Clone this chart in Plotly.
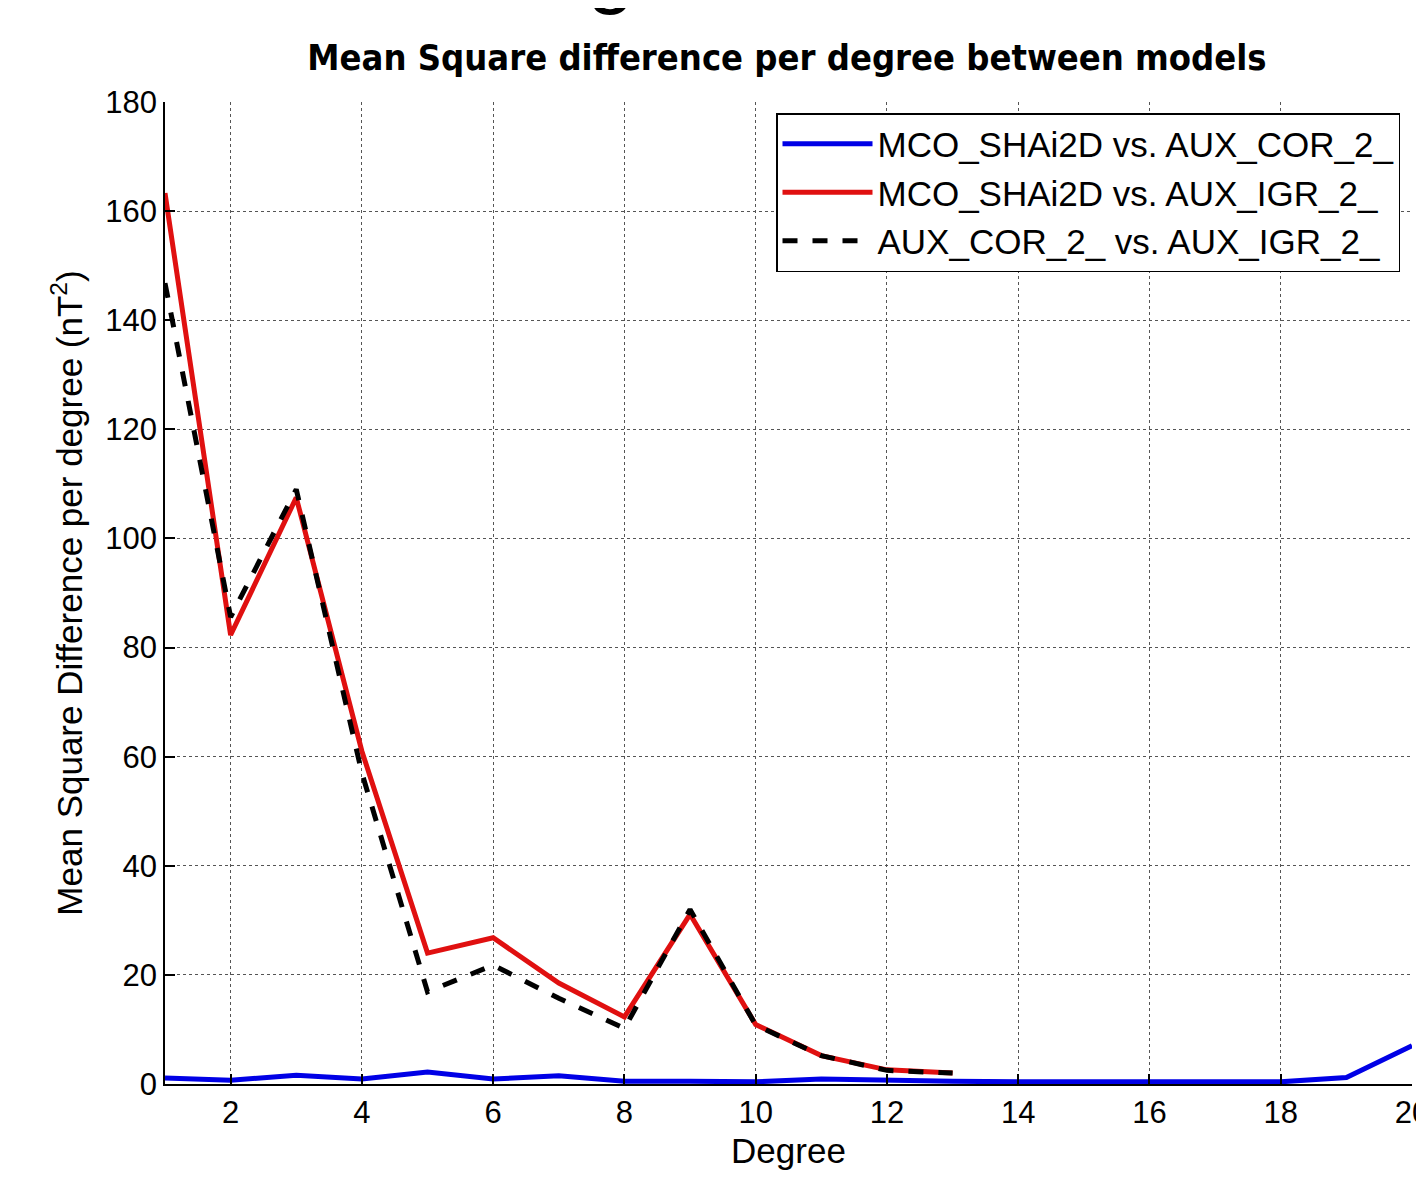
import plotly.graph_objects as go

degree = list(range(1, 21))
degree_13 = list(range(1, 14))

mco_vs_cor = [1.1, 0.7, 1.6, 0.9, 2.2, 0.9, 1.5, 0.5, 0.5, 0.4, 0.9, 0.6, 0.5,
              0.4, 0.4, 0.6, 0.4, 0.4, 1.2, 7.0]
mco_vs_igr = [163.3, 82.3, 107.5, 61.0, 24.0, 26.8, 18.5, 12.3, 31.1, 10.9, 5.2, 2.6, 2.0]
cor_vs_igr = [146.8, 85.6, 109.0, 57.0, 16.9, 21.8, 15.7, 10.2, 32.0, 10.8, 5.2, 2.5, 2.0]

names = ["MCO_SHAi2D vs. AUX_COR_2_", "MCO_SHAi2D vs. AUX_IGR_2_", "AUX_COR_2_ vs. AUX_IGR_2_"]
x_ticks = [2, 4, 6, 8, 10, 12, 14, 16, 18, 20]
y_ticks = [0, 20, 40, 60, 80, 100, 120, 140, 160, 180]

font = "Liberation Sans, Arial, Helvetica, sans-serif"

# page has an 8px body margin; figure sized to fit the window
W, H = 1416, 1180
L, R, T, B = 157, 12, 94, 104
pw, ph = W - L - R, H - T - B

fig = go.Figure()
fig.add_trace(go.Scatter(x=degree, y=mco_vs_cor, mode="lines", name=names[0],
                         line=dict(color="#0000e6", width=5)))
fig.add_trace(go.Scatter(x=degree_13, y=mco_vs_igr, mode="lines", name=names[1],
                         line=dict(color="#e01010", width=5)))
fig.add_trace(go.Scatter(x=degree_13, y=cor_vs_igr, mode="lines", name=names[2],
                         line=dict(color="black", width=5, dash="dash")))

axis_common = dict(
    showgrid=True, gridcolor="#555555", griddash="dot", gridwidth=1,
    showline=True, linecolor="black", linewidth=1.5, mirror=False,
    ticks="inside", ticklen=10, tickcolor="black", tickwidth=1.5,
    tickfont=dict(family=font, size=31, color="black"),
    zeroline=False, automargin=False, ticklabeloverflow="allow",
)

fig.update_layout(
    width=W, height=H,
    margin=dict(l=L, r=R, t=T, b=B),
    paper_bgcolor="white", plot_bgcolor="white",
    title=dict(text="<b>Mean Square difference per degree between models</b>",
               font=dict(family="Liberation Sans Narrow, DejaVu Sans Condensed, Liberation Sans", size=36, color="black"),
               x=779 / W, xanchor="center", xref="container",
               y=1 - 49 / H, yanchor="middle", yref="container"),
    xaxis=dict(range=[1, 20], tickvals=x_ticks,
               title=dict(text="Degree", font=dict(family=font, size=35, color="black"), standoff=10),
               **axis_common),
    yaxis=dict(range=[0, 180], tickvals=y_ticks,
               title=dict(text="Mean Square Difference per degree (nT<sup>2</sup>)",
                          font=dict(family=font, size=35, color="black"), standoff=12),
               **axis_common),
    legend=dict(x=(1392 - L) / pw, y=(H - B - 105) / ph, xanchor="right", yanchor="top",
                bgcolor="white", bordercolor="black", borderwidth=1.5,
                font=dict(family=font, size=35, color="black"),
                itemwidth=90, tracegroupgap=0),
    showlegend=True,
    annotations=[dict(text="g", xref="paper", yref="paper",
                      x=(602 - L) / pw, y=(H - B - 9) / ph, xanchor="center", yanchor="bottom",
                      showarrow=False, font=dict(family=font, size=85, color="black"))],
)

fig.write_html("out.html")
